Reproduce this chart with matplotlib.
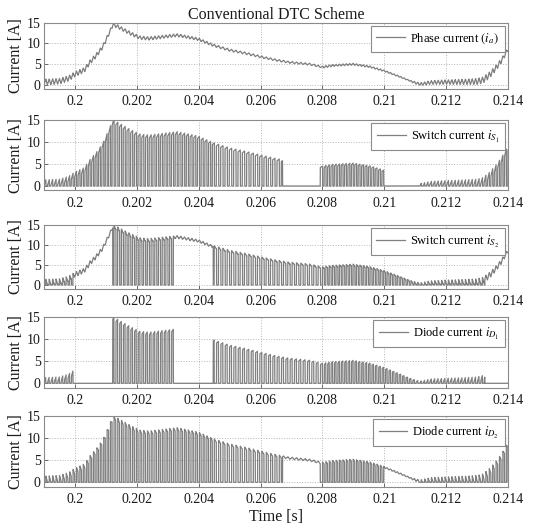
import numpy as np
import matplotlib
matplotlib.use('Agg')
import matplotlib.pyplot as plt

plt.rcParams['font.family'] = ['Liberation Serif', 'DejaVu Serif']
plt.rcParams['mathtext.fontset'] = 'stix'

# ---- data ----
# mean phase current (envelope) read from panel 1
env_t = [0.199, 0.1995, 0.1998, 0.2, 0.2003, 0.2005, 0.2007, 0.2009, 0.2011, 0.20123,
         0.2014, 0.2018, 0.2021, 0.2024, 0.20285, 0.2033, 0.2036, 0.204, 0.20446, 0.205,
         0.20554, 0.206, 0.2065, 0.2069, 0.2076, 0.208, 0.20834, 0.209, 0.20953, 0.21,
         0.2105, 0.2109, 0.21116, 0.2115, 0.212, 0.2125, 0.213, 0.2132, 0.2134, 0.2136,
         0.2138, 0.214]
env_i = [0.7, 0.9, 1.6, 2.6, 3.6, 5.6, 7.2, 9.2, 12.4, 14.6,
         14.0, 12.4, 11.4, 11.2, 11.6, 12.0, 11.6, 11.0, 9.6, 8.4,
         7.6, 6.8, 6.0, 5.5, 5.0, 4.3, 4.7, 5.0, 4.4, 3.4,
         2.0, 0.8, 0.15, 0.6, 0.7, 0.75, 0.85, 1.2, 2.4, 4.0,
         6.0, 8.6]
# peak-to-peak ripple of the phase current
rip_t = [0.199, 0.2, 0.2012, 0.2045, 0.21, 0.2108, 0.2112, 0.2125, 0.2133, 0.214]
rip_a = [1.4, 1.2, 0.9, 0.6, 0.4, 0.3, 0.8, 1.2, 1.5, 1.0]
# switching period per interval
per_edges = [0.199, 0.2012, 0.2045, 0.208, 0.214]
per_vals = [1.1e-4, 1.2e-4, 1.4e-4, 1.1e-4]
duty = 0.55
# switch states per interval
s1_edges = [0.199, 0.20671, 0.20792, 0.20998, 0.21115, 0.214]
s1_modes = ['chop', 'off', 'chop', 'off', 'chop']
s2_edges = [0.199, 0.19997, 0.20122, 0.20318, 0.20447, 0.21325, 0.214]
s2_modes = ['chop', 'on', 'chop', 'on', 'chop', 'on']

labels = [r'Phase current $(i_a)$', r'Switch current $i_{S_1}$', r'Switch current $i_{S_2}$',
          r'Diode current $i_{D_1}$', r'Diode current $i_{D_2}$']
xticks = [0.2, 0.202, 0.204, 0.206, 0.208, 0.21, 0.212, 0.214]
xtick_labels = ['0.2', '0.202', '0.204', '0.206', '0.208', '0.21', '0.212', '0.214']
yticks = [0, 5, 10, 15]

# ---- build waveforms ----
dt = 5e-7
t = np.arange(0.199, 0.214 + dt / 2, dt)
period = np.array(per_vals)[np.clip(np.searchsorted(per_edges, t, side='right') - 1, 0, len(per_vals) - 1)]
phase = np.mod(np.cumsum(dt / period), 1.0)
env = np.interp(t, env_t, env_i)
amp = np.interp(t, rip_t, rip_a)
ripple = np.where(phase < duty, amp * (phase / duty - 0.5),
                  amp * (0.5 - (phase - duty) / (1 - duty)))
ia = np.clip(env + ripple, 0, None)


def state(edges, modes, ph):
    idx = np.clip(np.searchsorted(edges, t, side='right') - 1, 0, len(modes) - 1)
    m = np.array(modes)[idx]
    s = np.where(m == 'on', 1.0, 0.0)
    s = np.where(m == 'chop', (ph < duty).astype(float), s)
    return s


s1 = state(s1_edges, s1_modes, phase)
s2 = state(s2_edges, s2_modes, np.mod(phase + 0.5, 1.0))
series = [ia, ia * s1, ia * s2, ia * (1 - s2), ia * (1 - s1)]

# ---- figure ----
W, H = 534, 529
fig = plt.figure(figsize=(W / 100, H / 100), dpi=100)
y15 = [22.7, 120.0, 225.0, 316.8, 416.0]
y0 = [85.0, 186.0, 285.0, 383.3, 482.3]
left, right = 44.0, 508.0
color = '#7f7f7f'
for k in range(5):
    pxA = (y0[k] - y15[k]) / 15.0
    ybot = y0[k] + pxA
    ax = fig.add_axes([left / W, 1 - ybot / H, (right - left) / W, (ybot - y15[k]) / H])
    ax.plot(t, series[k], color=color, lw=0.9, label=labels[k])
    ax.set_xlim(0.199, 0.214)
    ax.set_ylim(-1, 15)
    ax.set_xticks(xticks)
    ax.set_xticklabels(xtick_labels)
    ax.set_yticks(yticks)
    ax.grid(True, linestyle=':', color='#b5b5b5', linewidth=0.7)
    ax.tick_params(direction='in', length=3, width=0.6, colors='#555555',
                   labelsize=10, labelcolor='#1a1a1a', pad=2.5)
    ax.tick_params(axis='x', pad=4.5)
    for sp in ax.spines.values():
        sp.set_color('#8a8a8a')
        sp.set_linewidth(0.8)
    ax.set_ylabel('Current [A]', fontsize=11.5, color='#1a1a1a')
    ax.yaxis.set_label_coords(-0.043, 0.5)
    leg = ax.legend(loc='upper right', fontsize=9, fancybox=False, framealpha=1,
                    edgecolor='#8a8a8a', borderaxespad=0.25, handlelength=2.3,
                    handletextpad=0.4, borderpad=0.45)
    leg.get_frame().set_linewidth(0.8)
    if k == 0:
        ax.set_title('Conventional DTC Scheme', fontsize=11.5, pad=2, color='#1a1a1a')
    if k == 4:
        ax.set_xlabel('Time [s]', fontsize=11.5, color='#1a1a1a', labelpad=2)

fig.savefig('out.png', dpi=100)
